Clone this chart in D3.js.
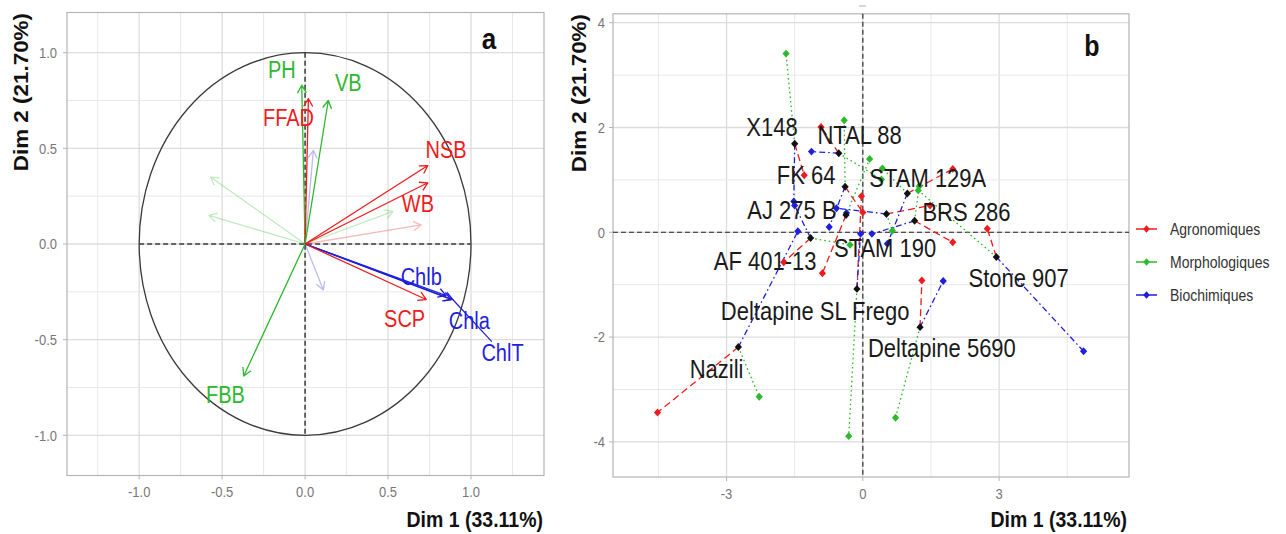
<!DOCTYPE html>
<html lang="en">
<head>
<meta charset="UTF-8">
<title>ACP variables / individus partiels</title>
<script src="https://d3js.org/d3.v7.min.js"></script>
<style>
  body { margin: 0; background: #fff; }
  svg { font-family: Arial, "Liberation Sans", sans-serif; display: block; }
</style>
</head>
<body>
<svg id="chart" width="1286" height="534"></svg>
<script>
// ---- panel a : variables (correlation circle) ----
const varNames   = ["PH", "FFAD", "VB", "NSB", "WB", "Chlb", "Chla", "ChlT", "SCP", "FBB"];
const varGroup   = [1, 0, 1, 0, 0, 2, 2, 2, 0, 1];
const varDim1    = [-0.02, 0.02, 0.14, 0.74, 0.74, 0.85, 0.88, 0.89, 0.73, -0.37];
const varDim2    = [0.83, 0.76, 0.75, 0.41, 0.32, -0.27, -0.29, -0.29, -0.29, -0.69];
const varLabDim1 = [-0.14, -0.10, 0.26, 0.85, 0.68, 0.70, 0.99, 1.19, 0.60, -0.48];
const varLabDim2 = [0.91, 0.66, 0.84, 0.49, 0.21, -0.17, -0.40, -0.57, -0.39, -0.79];
const varSegment = [0, 0, 0, 0, 0, 0, 0, 1, 0, 0];
// unlabelled (faded) variables
const fadedGroup = [0, 1, 1, 1, 2, 2];
const fadedDim1  = [0.70, 0.53, -0.57, -0.58, 0.05, 0.11];
const fadedDim2  = [0.10, 0.17, 0.35, 0.15, 0.49, -0.24];
const ticksA     = [-1.0, -0.5, 0.0, 0.5, 1.0];

// ---- panel b : individuals + partial points ----
const groupNames = ["Agronomiques", "Morphologiques", "Biochimiques"];
const indNames = ["X148", "NTAL 88", "FK 64", "STAM 129A", "AJ 275 B", "STAM 190",
                  "BRS 286", "AF 401-13", "Stone 907", "Deltapine SL Frego", "Deltapine 5690", "Nazili"];
const indDim1    = [-1.50, -0.53, -0.39, 0.98, -0.37, 0.52, 1.14, -1.15, 2.94, -0.13, 1.26, -2.74];
const indDim2    = [1.69, 1.51, 0.87, 0.74, 0.33, 0.35, 0.22, -0.11, -0.47, -1.08, -1.81, -2.19];
const agroDim1   = [-1.29, -0.92, 0.00, 1.98, -0.89, 1.48, 1.98, -1.74, 2.74, -0.03, 1.30, -4.52];
const agroDim2   = [1.09, 2.01, 0.38, 1.21, -0.78, 0.51, -0.19, -0.57, 0.07, 0.69, -0.92, -3.44];
const morphoDim1 = [-1.69, 0.41, -0.41, 0.43, 0.15, 0.65, 1.24, -0.28, 1.22, -0.31, 0.72, -2.28];
const morphoDim2 = [3.41, 1.01, 2.14, 1.22, 1.40, 0.03, 0.88, -0.24, 0.80, -3.89, -3.54, -3.14];
const bioDim1    = [-1.52, -1.13, -0.74, 0.54, -0.36, -0.58, 0.20, -1.50, 4.86, -0.05, 1.77, -1.43];
const bioDim2    = [0.59, 1.54, 0.10, -0.22, 0.37, 0.46, -0.03, 0.51, -2.27, -0.03, -0.93, 0.02];
const indLabDim1 = [-2.00, -0.07, -1.25, 1.43, -1.56, 0.49, 2.28, -2.15, 3.43, -1.05, 1.74, -3.22];
const indLabDim2 = [2.01, 1.85, 1.08, 1.03, 0.41, -0.31, 0.38, -0.56, -0.88, -1.52, -2.22, -2.61];
const ticksBx    = [-3, 0, 3];
const ticksBy    = [-4, -2, 0, 2, 4];

const groupColors = ["#EE1C1C", "#2DB92D", "#1F1FDD"];
const groupDash   = ["7,4", "1.6,3", "6,3,1.6,3"];
const SY = 1.15; // picture is a little taller than wide

const svg = d3.select("#chart");
svg.append("rect").attr("width", 1286).attr("height", 534).attr("fill", "#fff");

function addText(g, x, y, txt, o = {}) {
  const t = g.append("text")
    .attr("transform", `translate(${x},${y}) scale(1,${SY})` + (o.rotate ? ` rotate(${o.rotate})` : ""))
    .attr("text-anchor", o.anchor || "middle")
    .attr("dominant-baseline", "central")
    .attr("font-size", o.size || 13)
    .attr("fill", o.color || "#1a1a1a")
    .text(txt);
  if (o.weight) t.attr("font-weight", o.weight);
  return t;
}

function drawArrow(g, x0, y0, x1, y1, color, opacity) {
  const a = Math.atan2(y1 - y0, x1 - x0), len = 9, h = Math.PI / 6;
  const p = d3.path();
  p.moveTo(x0, y0); p.lineTo(x1, y1);
  p.moveTo(x1 - len * Math.cos(a - h), y1 - len * Math.sin(a - h));
  p.lineTo(x1, y1);
  p.lineTo(x1 - len * Math.cos(a + h), y1 - len * Math.sin(a + h));
  g.append("path").attr("d", p.toString())
    .attr("fill", "none").attr("stroke", color).attr("stroke-width", 1.3)
    .attr("stroke-opacity", opacity).attr("stroke-linejoin", "round");
}

function diamond(g, x, y, color, r = 3.6) {
  g.append("path")
    .attr("d", `M${x},${y - r * 1.1}L${x + r},${y}L${x},${y + r * 1.1}L${x - r},${y}Z`)
    .attr("fill", color);
}

function panelFrame(g, x, y, grid) {
  const [x0, x1] = x.range(), [y1, y0] = y.range();
  grid.xs.forEach(v => g.append("line").attr("x1", x(v)).attr("x2", x(v)).attr("y1", y0).attr("y2", y1)
    .attr("stroke", grid.xMajor.includes(v) ? "#dcdcdc" : "#e8e8e8").attr("stroke-width", grid.xMajor.includes(v) ? 1.3 : 1));
  grid.ys.forEach(v => g.append("line").attr("y1", y(v)).attr("y2", y(v)).attr("x1", x0).attr("x2", x1)
    .attr("stroke", grid.yMajor.includes(v) ? "#dcdcdc" : "#e8e8e8").attr("stroke-width", grid.yMajor.includes(v) ? 1.3 : 1));
  g.append("rect").attr("x", x0).attr("y", y0).attr("width", x1 - x0).attr("height", y1 - y0)
    .attr("fill", "none").attr("stroke", "#b5b5b5").attr("stroke-width", 1.2);
}

// ================= panel a =================
const xa = d3.scaleLinear().domain([-1.435, 1.44]).range([67, 544]);
const ya = d3.scaleLinear().domain([-1.21, 1.21]).range([475.5, 12.5]);
const ga = svg.append("g");

panelFrame(ga, xa, ya, {
  xs: d3.range(-1.25, 1.26, 0.25), xMajor: ticksA,
  ys: d3.range(-1.0, 1.01, 0.25), yMajor: ticksA
});

ticksA.forEach(v => {
  addText(ga, xa(v), 492, v.toFixed(1), { size: 13, color: "#777" });
  addText(ga, 57, ya(v), v.toFixed(1), { size: 13, color: "#777", anchor: "end" });
  ga.append("line").attr("x1", xa(v)).attr("x2", xa(v)).attr("y1", 475.5).attr("y2", 479.5).attr("stroke", "#b5b5b5");
  ga.append("line").attr("x1", 63).attr("x2", 67).attr("y1", ya(v)).attr("y2", ya(v)).attr("stroke", "#b5b5b5");
});

ga.append("ellipse").attr("cx", xa(0)).attr("cy", ya(0))
  .attr("rx", xa(1) - xa(0)).attr("ry", ya(0) - ya(1))
  .attr("fill", "none").attr("stroke", "#3a3a3a").attr("stroke-width", 1.3);
ga.append("line").attr("x1", xa(-1)).attr("x2", xa(1)).attr("y1", ya(0)).attr("y2", ya(0))
  .attr("stroke", "#3a3a3a").attr("stroke-width", 1.5).attr("stroke-dasharray", "5,3");
ga.append("line").attr("x1", xa(0)).attr("x2", xa(0)).attr("y1", ya(1)).attr("y2", ya(-1))
  .attr("stroke", "#3a3a3a").attr("stroke-width", 1.5).attr("stroke-dasharray", "5,3");

fadedDim1.forEach((d, i) => drawArrow(ga, xa(0), ya(0), xa(d), ya(fadedDim2[i]), groupColors[fadedGroup[i]], 0.3));
varDim1.forEach((d, i) => drawArrow(ga, xa(0), ya(0), xa(d), ya(varDim2[i]), groupColors[varGroup[i]], 1));

varNames.forEach((n, i) => {
  const lx = xa(varLabDim1[i]), ly = ya(varLabDim2[i]);
  if (varSegment[i]) {
    const tx = xa(varDim1[i]), ty = ya(varDim2[i]);
    const dx = tx - lx, dy = ty - ly;
    const t = Math.min(21 / Math.abs(dx), 11.5 / Math.abs(dy));
    ga.append("line").attr("x1", tx).attr("y1", ty).attr("x2", lx + dx * t).attr("y2", ly + dy * t)
      .attr("stroke", groupColors[varGroup[i]]).attr("stroke-width", 1.2);
  }
  addText(ga, lx, ly, n, { size: 20, color: groupColors[varGroup[i]] });
});

addText(ga, 489, 39, "a", { size: 26, weight: "bold", color: "#111" });
addText(ga, 543, 519, "Dim 1 (33.11%)", { size: 19.5, weight: "bold", anchor: "end", color: "#111" });
addText(ga, 21, 13, "Dim 2 (21.70%)", { size: 19.5, weight: "bold", anchor: "end", rotate: -90, color: "#111" });

// ================= panel b =================
const xb = d3.scaleLinear().domain([-5.5, 5.86]).range([613, 1129]);
const yb = d3.scaleLinear().domain([-4.67, 4.17]).range([477, 13.8]);
const gb = svg.append("g");

panelFrame(gb, xb, yb, {
  xs: d3.range(-4.5, 4.6, 1.5), xMajor: ticksBx,
  ys: d3.range(-4, 4.1, 1), yMajor: ticksBy
});
gb.append("line").attr("x1", 859).attr("x2", 866).attr("y1", 6).attr("y2", 6).attr("stroke", "#aaa");

ticksBx.forEach(v => {
  addText(gb, xb(v), 494, String(v), { size: 13, color: "#777" });
  gb.append("line").attr("x1", xb(v)).attr("x2", xb(v)).attr("y1", 477).attr("y2", 481).attr("stroke", "#b5b5b5");
});
ticksBy.forEach(v => {
  addText(gb, 605, yb(v), String(v), { size: 13, color: "#777", anchor: "end" });
  gb.append("line").attr("x1", 609).attr("x2", 613).attr("y1", yb(v)).attr("y2", yb(v)).attr("stroke", "#b5b5b5");
});

gb.append("line").attr("x1", 613).attr("x2", 1129).attr("y1", yb(0)).attr("y2", yb(0))
  .attr("stroke", "#222").attr("stroke-width", 1.1).attr("stroke-dasharray", "5,3");
gb.append("line").attr("x1", xb(0)).attr("x2", xb(0)).attr("y1", 13.8).attr("y2", 477)
  .attr("stroke", "#222").attr("stroke-width", 1.1).attr("stroke-dasharray", "5,3");

const partials = [[agroDim1, agroDim2], [morphoDim1, morphoDim2], [bioDim1, bioDim2]];
partials.forEach(([px, py], gi) => {
  indNames.forEach((n, i) => {
    gb.append("line")
      .attr("x1", xb(indDim1[i])).attr("y1", yb(indDim2[i]))
      .attr("x2", xb(px[i])).attr("y2", yb(py[i]))
      .attr("stroke", groupColors[gi]).attr("stroke-width", 1.3)
      .attr("stroke-dasharray", groupDash[gi]);
  });
});
partials.forEach(([px, py], gi) => {
  indNames.forEach((n, i) => diamond(gb, xb(px[i]), yb(py[i]), groupColors[gi]));
});
indNames.forEach((n, i) => diamond(gb, xb(indDim1[i]), yb(indDim2[i]), "#111"));
indNames.forEach((n, i) => addText(gb, xb(indLabDim1[i]), yb(indLabDim2[i]), n, { size: 22, color: "#1a1a1a" }));

addText(gb, 1092, 46, "b", { size: 25, weight: "bold", color: "#111" });
addText(gb, 1127, 519, "Dim 1 (33.11%)", { size: 19.5, weight: "bold", anchor: "end", color: "#111" });
addText(gb, 579, 14, "Dim 2 (21.70%)", { size: 19.5, weight: "bold", anchor: "end", rotate: -90, color: "#111" });

// legend
const legend = svg.append("g");
groupNames.forEach((n, i) => {
  const y = 229 + i * 33;
  legend.append("line").attr("x1", 1136).attr("x2", 1157).attr("y1", y).attr("y2", y)
    .attr("stroke", groupColors[i]).attr("stroke-width", 1.5);
  diamond(legend, 1146.5, y, groupColors[i], 3.3);
  addText(legend, 1170, y, n, { size: 14, color: "#333", anchor: "start" });
});
</script>
</body>
</html>
